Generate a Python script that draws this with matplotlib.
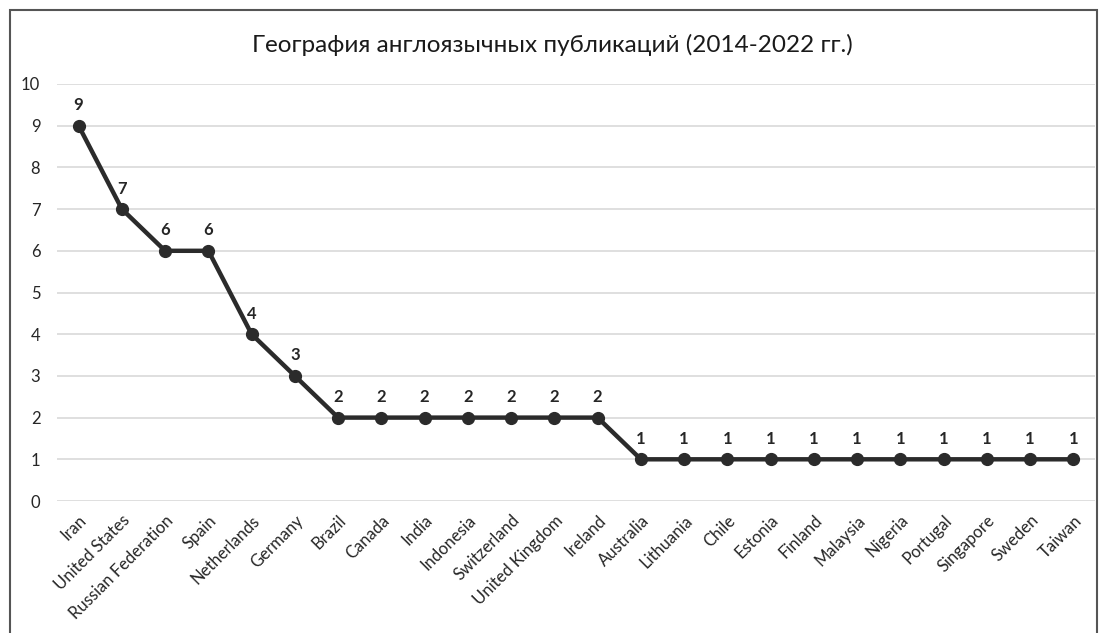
import matplotlib.pyplot as plt
from matplotlib.patches import Rectangle

# donnees
pays = ["Iran", "United States", "Russian Federation", "Spain", "Netherlands",
        "Germany", "Brazil", "Canada", "India", "Indonesia", "Switzerland",
        "United Kingdom", "Ireland", "Australia", "Lithuania", "Chile", "Estonia",
        "Finland", "Malaysia", "Nigeria", "Portugal", "Singapore", "Sweden", "Taiwan"]
publications = [9, 7, 6, 6, 4, 3, 2, 2, 2, 2, 2, 2, 2, 1, 1, 1, 1, 1, 1, 1, 1, 1, 1, 1]

plt.rcParams['font.family'] = ['Lato', 'DejaVu Sans']

fig = plt.figure(figsize=(11.04, 6.33), dpi=100)
ax = fig.add_axes([57/1104, 1 - 501/633, (1095 - 57)/1104, (501 - 84)/633])

x = list(range(len(pays)))
ax.plot(x, publications, color='#2b2b2b', linewidth=3.2, marker='o', markersize=8.5, zorder=3)

# etiquettes de valeurs
for xi, v in zip(x, publications):
    ax.annotate(str(v), (xi, v), xytext=(0, 9), textcoords='offset points',
                ha='center', va='bottom', fontsize=12, fontweight='bold', color='#262626')

ax.set_xlim(-0.5, len(pays) - 0.5)
ax.set_ylim(0, 10)
ax.set_yticks(range(0, 11))
ax.yaxis.grid(True, color='#d9d9d9', linewidth=1.2)
ax.set_axisbelow(True)
for s in ax.spines.values():
    s.set_visible(False)
ax.tick_params(axis='both', length=0, labelsize=12, labelcolor='#262626')
ax.tick_params(axis='y', pad=12)
ax.set_xticks(x)
ax.set_xticklabels(pays, rotation=45, ha='right', va='top', rotation_mode='anchor')
ax.tick_params(axis='x', pad=8)

fig.text(0.5, 1 - 45/633, "География англоязычных публикаций (2014-2022 гг.)",
         ha='center', va='center', fontsize=17.5, color='#1a1a1a')

# cadre autour du graphique
cadre = Rectangle((10/1104, -0.1), (1097 - 10)/1104, 1.1 - 10/633,
                  transform=fig.transFigure, fill=False, edgecolor='#555555',
                  linewidth=1.5, clip_on=False)
fig.patches.append(cadre)

plt.savefig("out.png", dpi=100)
